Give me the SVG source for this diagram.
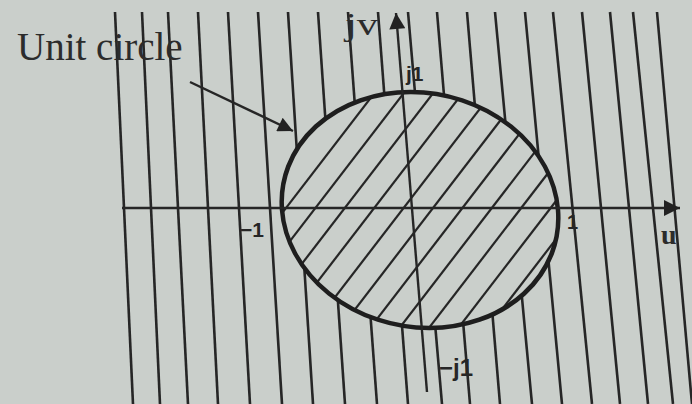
<svg xmlns="http://www.w3.org/2000/svg" width="692" height="404" viewBox="0 0 692 404">
<style>
.vl{stroke:#262626;stroke-width:2.6;fill:none;stroke-linecap:butt}
.ht{stroke:#262626;stroke-width:2.2;fill:none}
.ax{stroke:#262626;stroke-width:2.4;fill:none}
.lbl{font-family:"Liberation Sans",Arial,sans-serif;font-weight:bold;fill:#262626}
.ser{font-family:"Liberation Serif","Times New Roman",serif;fill:#2c2c2c}
</style>
<defs>
<marker id="ah" viewBox="0 0 10 10" refX="10" refY="5" markerWidth="18" markerHeight="16" markerUnits="userSpaceOnUse" orient="auto">
<path d="M0,0 L10,5 L0,10 z" fill="#222"/>
</marker>
<marker id="ah2" viewBox="0 0 10 10" refX="10" refY="5" markerWidth="22" markerHeight="15" markerUnits="userSpaceOnUse" orient="auto">
<path d="M0,0 L10,5 L0,10 z" fill="#222"/>
</marker>
<clipPath id="circ">
<ellipse cx="0" cy="0" rx="138" ry="118" transform="translate(420,210) skewX(4.5)"/>
</clipPath>
</defs>
<rect x="0" y="0" width="692" height="404" fill="#cacfcb"/>
<g id="vertical-lines">
<line class="vl" x1="115" y1="12" x2="133" y2="404"/>
<line class="vl" x1="142" y1="12" x2="160" y2="404"/>
<line class="vl" x1="168" y1="12" x2="188" y2="404"/>
<line class="vl" x1="198" y1="12" x2="218" y2="404"/>
<line class="vl" x1="228" y1="12" x2="250" y2="404"/>
<line class="vl" x1="258" y1="12" x2="282" y2="404"/>
<line class="vl" x1="288" y1="12" x2="313" y2="404"/>
<line class="vl" x1="318" y1="12" x2="345" y2="404"/>
<line class="vl" x1="348" y1="12" x2="377" y2="404"/>
<line class="vl" x1="378" y1="12" x2="408" y2="404"/>
<line class="vl" x1="408" y1="12" x2="442" y2="404"/>
<line class="vl" x1="437" y1="12" x2="470" y2="404"/>
<line class="vl" x1="467" y1="12" x2="500" y2="404"/>
<line class="vl" x1="495" y1="12" x2="532" y2="404"/>
<line class="vl" x1="525" y1="12" x2="562" y2="404"/>
<line class="vl" x1="553" y1="12" x2="592" y2="404"/>
<line class="vl" x1="582" y1="12" x2="620" y2="404"/>
<line class="vl" x1="610" y1="12" x2="648" y2="404"/>
<line class="vl" x1="633" y1="12" x2="673" y2="404"/>
<line class="vl" x1="657" y1="12" x2="692" y2="404"/>
</g>
<g id="unit-circle">
<ellipse cx="0" cy="0" rx="138" ry="118" transform="translate(420,210) skewX(4.5)" fill="#cacfcb"/>
<g clip-path="url(#circ)">
<line class="ht" x1="126" y1="416" x2="446" y2="0"/>
<line class="ht" x1="155.4" y1="416" x2="475.4" y2="0"/>
<line class="ht" x1="184.8" y1="416" x2="504.8" y2="0"/>
<line class="ht" x1="214.2" y1="416" x2="534.2" y2="0"/>
<line class="ht" x1="243.6" y1="416" x2="563.6" y2="0"/>
<line class="ht" x1="273" y1="416" x2="593" y2="0"/>
<line class="ht" x1="302.4" y1="416" x2="622.4" y2="0"/>
<line class="ht" x1="331.8" y1="416" x2="651.8" y2="0"/>
<line class="ht" x1="361.2" y1="416" x2="681.2" y2="0"/>
<line class="ht" x1="390.6" y1="416" x2="710.6" y2="0"/>
<line class="ht" x1="420" y1="416" x2="740" y2="0"/>
</g>
<ellipse cx="0" cy="0" rx="138" ry="118" transform="translate(420,210) skewX(4.5)" fill="none" stroke="#1e1e1e" stroke-width="4.5"/>
</g>
<g id="connectors">
<line class="ax" x1="122" y1="208" x2="680" y2="208" marker-end="url(#ah)"/>
<line class="ax" x1="427" y1="392" x2="396" y2="13" marker-end="url(#ah)"/>
<line class="ax" x1="190" y1="82" x2="293" y2="131" marker-end="url(#ah2)"/>
</g>
<g id="labels">
<text class="ser" x="17" y="60" font-size="39">Unit circle</text>
<text class="ser" x="345" y="35" font-size="32" textLength="33" lengthAdjust="spacingAndGlyphs">jv</text>
<text class="lbl" x="406" y="81" font-size="21">j1</text>
<text class="lbl" x="240" y="237" font-size="21">−1</text>
<text class="lbl" x="567" y="229" font-size="20">1</text>
<text class="ser" x="661" y="244" font-size="28" font-weight="bold">u</text>
<text class="lbl" x="439" y="376" font-size="24">−j1</text>
</g>
</svg>
